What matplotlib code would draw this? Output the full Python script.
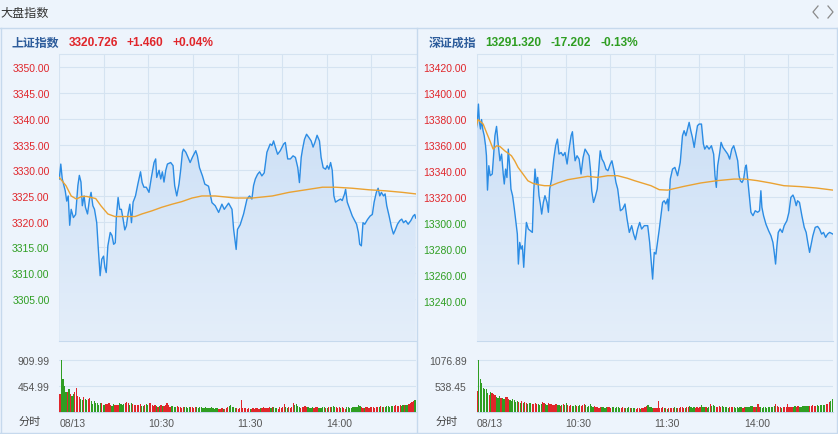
import numpy as np
import matplotlib
matplotlib.use("Agg")
import matplotlib.pyplot as plt
from matplotlib.colors import LinearSegmentedColormap
from matplotlib.lines import Line2D

plt.rcParams["font.family"] = ["Liberation Sans", "Noto Sans CJK SC"]

# ---- data (minute since 9:30, 240 trading minutes) ----

sh_name = "上证指数"
sh_last = "3320.726"
sh_chg = "+1.460"
sh_pct = "+0.04%"
sh_prev = 3319.266

sh_t = [0, 1, 2, 4, 5, 6, 7, 8, 9.5, 11, 12.5, 13.5, 14.6, 15.5, 16.7, 17.6, 19, 20.3, 21.4, 22.6,
        23.7, 25.2, 26.3, 27.5, 28.6, 29.8, 30.7, 31.6, 32.7, 34.3, 35.5, 36.6, 37.7, 38.4, 39.6, 40.7,
        41.8, 42.9, 44.1, 45.2, 46.3, 47.5, 48.6, 49.7, 51.3, 52.9, 54.7, 55.8, 57, 58.6, 60.4, 62,
        63.8, 64.9, 65.6, 67.2, 68.3, 69.4, 70.5, 71.7, 72.8, 75, 76.6, 77.7, 79.1, 80.6, 81.8, 82.9,
        83.6, 85.2, 86.7, 88.1, 89.6, 91.9, 93, 94.4, 96.4, 98, 100.5, 102.8, 105, 107.3, 109.5, 111.1,
        114, 116.3, 117.4, 119.1, 120, 121.8, 124.1, 126.4, 128.1, 129.7, 130.8, 132, 133.5, 134.9,
        136.4, 138, 139.8, 142, 143.2, 144.3, 145.5, 147, 148.8, 151.1, 152.2, 153.8, 155.6, 157.4,
        159, 160.6, 161.7, 162.9, 163.8, 165.1, 166.5, 168, 169.6, 170.9, 172.1, 173.6, 175.2, 176.3,
        177.7, 179.3, 180.4, 181.5, 182.7, 183.8, 184.9, 186, 187.6, 189.4, 190.5, 192.1, 192.8, 193.9,
        195.7, 197.3, 198.9, 200.2, 201.4, 202.3, 203.4, 204.5, 205.7, 207.5, 209.3, 210.8, 212, 213.5,
        214.7, 215.8, 216.9, 218.3, 219.4, 220.5, 222.1, 223.7, 225, 226.1, 227.7, 229.3, 230.6, 231.8,
        233.3, 234.9, 236.7, 238.3, 239.4, 240]
sh_p = [3328.3, 3331.2, 3328.3, 3326.0, 3324.0, 3325.0, 3319.3, 3322.4, 3320.8, 3321.4, 3327.0, 3329.0,
        3327.7, 3323.1, 3325.0, 3322.8, 3321.5, 3324.3, 3325.7, 3323.1, 3322.4, 3319.8, 3314.6, 3309.5,
        3312.7, 3313.3, 3311.1, 3310.1, 3315.3, 3317.9, 3317.3, 3315.6, 3315.9, 3320.8, 3324.7, 3322.4,
        3322.4, 3320.6, 3318.4, 3319.2, 3321.5, 3323.4, 3319.8, 3323.8, 3325.0, 3327.3, 3329.7, 3327.6,
        3326.7, 3326.7, 3325.7, 3328.6, 3331.5, 3332.2, 3328.6, 3330.0, 3328.3, 3329.7, 3327.7, 3330.0,
        3331.2, 3331.5, 3330.9, 3327.0, 3325.0, 3327.3, 3330.2, 3333.5, 3334.1, 3333.5, 3332.5, 3331.5,
        3332.5, 3333.8, 3332.8, 3330.5, 3328.9, 3327.3, 3326.9, 3323.7, 3323.1, 3321.8, 3323.4, 3322.4,
        3323.6, 3322.4, 3318.5, 3314.6, 3318.5, 3319.4, 3321.5, 3324.4, 3325.0, 3324.4, 3327.0, 3328.3,
        3329.2, 3329.7, 3328.9, 3329.5, 3333.5, 3335.1, 3334.8, 3335.7, 3334.5, 3333.1, 3333.8, 3335.1,
        3335.4, 3332.2, 3332.2, 3332.8, 3332.5, 3330.5, 3327.6, 3332.5, 3334.1, 3336.0, 3337.0, 3336.4,
        3335.7, 3334.5, 3335.4, 3336.8, 3335.7, 3332.5, 3330.5, 3330.2, 3330.9, 3330.2, 3331.5, 3330.0,
        3325.0, 3323.8, 3324.1, 3324.4, 3324.1, 3325.4, 3326.3, 3323.8, 3322.4, 3321.1, 3320.2, 3319.5,
        3317.9, 3315.6, 3315.3, 3319.8, 3319.5, 3320.4, 3321.1, 3321.4, 3323.8, 3325.7, 3326.5, 3325.0,
        3325.7, 3325.0, 3325.4, 3323.1, 3321.1, 3318.9, 3317.6, 3318.3, 3319.5, 3320.2, 3320.5, 3319.8,
        3320.2, 3319.5, 3320.2, 3321.1, 3321.4, 3320.7]

sh_avg_t = [0, 4.5, 8, 11.5, 15, 18.5, 24.5, 28, 32.7, 37.4, 51, 55.6, 62.3, 69, 76, 82.5, 89.4, 96,
            105, 112, 118.5, 130, 143.5, 154.7, 166, 177.2, 186, 197.3, 208.5, 219.6, 231, 240]
sh_avg_p = [3328.6, 3327.0, 3325.0, 3324.4, 3324.9, 3324.9, 3324.5, 3323.1, 3321.5, 3321.0, 3321.0,
            3321.5, 3322.1, 3322.8, 3323.4, 3323.9, 3324.6, 3325.0, 3325.0, 3324.8, 3324.6, 3324.6,
            3325.0, 3325.7, 3326.2, 3326.7, 3326.7, 3326.5, 3326.2, 3326.0, 3325.7, 3325.4]

sh_vol = [313, 910, 578, 460, 342, 342, 407, 313, 283, 313,
          342, 413, 283, 254, 236, 212, 254, 224, 212, 236,
          242, 195, 136, 195, 165, 153, 130, 150, 160, 125,
          120, 140, 135, 150, 125, 110, 145, 130, 120, 115,
          150, 135, 120, 140, 165, 180, 150, 130, 160, 140,
          130, 120, 115, 125, 140, 110, 100, 120, 135, 115,
          165, 150, 125, 110, 120, 100, 95, 110, 130, 105,
          100, 115, 150, 120, 95, 110, 100, 90, 85, 100,
          95, 80, 70, 85, 90, 80, 75, 95, 85, 80,
          75, 90, 85, 70, 80, 90, 75, 70, 85, 75,
          70, 65, 80, 75, 60, 65, 70, 55, 60, 65,
          55, 60, 75, 90, 110, 120, 95, 80, 70, 65,
          60, 70, 210, 75, 65, 70, 60, 65, 55, 60,
          70, 60, 65, 75, 60, 70, 65, 80, 75, 70,
          65, 80, 75, 90, 85, 70, 75, 60, 80, 70,
          95, 135, 80, 75, 85, 70, 90, 150, 120, 145,
          100, 85, 75, 95, 80, 110, 90, 80, 75, 70,
          85, 75, 90, 80, 70, 75, 65, 80, 85, 70,
          75, 90, 80, 85, 110, 95, 80, 75, 85, 70,
          80, 75, 60, 85, 90, 70, 75, 80, 90, 85,
          95, 130, 100, 90, 75, 70, 80, 85, 75, 80,
          90, 80, 75, 85, 95, 90, 100, 85, 90, 95,
          100, 110, 95, 105, 100, 110, 120, 105, 100, 115,
          110, 120, 130, 115, 125, 140, 150, 170, 195, 206]

sz_name = "深证成指"
sz_last = "13291.320"
sz_chg = "-17.202"
sz_pct = "-0.13%"
sz_prev = 13308.522

sz_t = [0, 0.7, 1.3, 2, 2.7, 3.4, 4.3, 5.2, 6.1, 6.7, 7.4, 8.3, 9.2, 10.6, 11.5, 12.4, 13.5, 14.6,
        15.8, 16.9, 18, 18.7, 19.6, 20.5, 21.4, 22.3, 23.2, 24.3, 25.5, 26.6, 27.5, 28.2, 29.1, 30,
        30.9, 31.8, 32.7, 33.6, 34.9, 36.3, 37.6, 38.5, 39.4, 40.3, 41.2, 42.1, 43, 43.9, 45, 46.1,
        47.5, 48.4, 49.3, 50.6, 52, 53.3, 54.5, 55.6, 57, 58.3, 59.6, 61, 62.3, 63.7, 64.6, 65.5, 66.4,
        67.7, 69.1, 70.4, 71.8, 73.1, 74.5, 75.8, 76.7, 77.6, 78.8, 79.9, 81.3, 82.2, 83.3, 84.5, 85.8,
        87.2, 88.5, 90.1, 91.2, 92.6, 93.9, 95.1, 96.9, 98.4, 100, 101.4, 102.9, 104.5, 105.8, 107,
        108.5, 109.9, 111.2, 113, 115.3, 116.6, 117.5, 118.6, 119.7, 120.8, 121.9, 123.1, 124.2, 125.3,
        126.4, 127.5, 128.7, 129.3, 130.5, 132, 133.6, 135.4, 137.2, 138.7, 139.8, 141, 142.1, 143.2,
        144.3, 145.4, 146.6, 147.7, 148.8, 149.9, 151.5, 152.8, 153.7, 155.1, 156.6, 158.2, 159.7,
        160.6, 161.5, 162.4, 163.8, 164.7, 166, 167.6, 169.2, 170.5, 171.9, 173.2, 174.5, 175.9, 176.8,
        177.7, 178.8, 179.9, 181, 181.7, 182.6, 183.7, 184.8, 186.2, 187.7, 189.3, 190.6, 191.5, 192.2,
        193.3, 194.9, 196.7, 198.3, 199.6, 200.5, 201.4, 202.3, 203.2, 204.5, 205.9, 207.2, 209, 210.4,
        211.7, 213.1, 214.2, 215.3, 216.2, 217.5, 219.1, 220.7, 222, 223.1, 224.3, 225.4, 226.5, 228.1,
        229.7, 231, 232.4, 233.7, 235.1, 236.4, 237.8, 240]
sz_p = [13373.6, 13380.0, 13391.5, 13377.4, 13372.3, 13379.6, 13371.6, 13367.1, 13359.4, 13351.7,
        13325.2, 13344.0, 13336.3, 13337.6, 13351.7, 13367.1, 13374.3, 13360.7, 13347.8, 13352.9,
        13337.6, 13329.9, 13341.4, 13334.9, 13356.8, 13344.0, 13326.0, 13320.9, 13310.6, 13300.3,
        13291.3, 13268.2, 13284.9, 13279.7, 13282.3, 13265.7, 13284.9, 13300.3, 13295.2, 13293.9,
        13292.6, 13323.5, 13341.4, 13329.9, 13335.0, 13320.9, 13314.5, 13306.7, 13315.7, 13320.9,
        13315.7, 13308.1, 13326.1, 13333.8, 13349.1, 13359.4, 13364.5, 13353.0, 13354.2, 13351.7,
        13354.2, 13345.3, 13356.8, 13367.1, 13370.2, 13358.1, 13347.8, 13351.7, 13349.1, 13337.6,
        13350.4, 13356.8, 13354.2, 13351.7, 13341.4, 13324.7, 13315.7, 13319.6, 13326.0, 13338.9,
        13355.5, 13349.1, 13346.5, 13341.4, 13340.1, 13345.3, 13347.8, 13340.1, 13331.1, 13326.0,
        13309.3, 13310.6, 13314.5, 13302.9, 13292.6, 13297.8, 13291.3, 13287.0, 13295.2, 13300.3,
        13295.2, 13297.8, 13297.8, 13284.9, 13272.0, 13256.6, 13277.2, 13275.9, 13284.9, 13295.2,
        13305.5, 13315.7, 13317.0, 13314.5, 13318.3, 13309.3, 13333.7, 13341.4, 13342.7, 13336.3,
        13346.5, 13367.1, 13371.0, 13367.1, 13372.2, 13377.4, 13371.0, 13365.8, 13358.1, 13367.1,
        13374.8, 13376.1, 13376.1, 13360.7, 13356.8, 13359.4, 13356.8, 13359.4, 13352.9, 13336.3,
        13327.3, 13344.0, 13354.2, 13362.0, 13358.1, 13355.5, 13352.9, 13349.1, 13356.8, 13359.4,
        13354.2, 13347.8, 13336.3, 13332.4, 13331.1, 13333.7, 13342.7, 13344.5, 13333.7, 13320.9,
        13308.1, 13305.5, 13309.3, 13308.1, 13309.3, 13324.7, 13311.9, 13305.5, 13299.0, 13293.9,
        13290.0, 13284.9, 13277.2, 13268.2, 13282.3, 13292.6, 13295.2, 13292.6, 13297.8, 13301.6,
        13308.1, 13319.6, 13321.4, 13318.3, 13313.2, 13317.0, 13315.7, 13305.5, 13296.5, 13292.6,
        13284.9, 13277.2, 13283.6, 13290.0, 13296.5, 13297.2, 13295.2, 13291.3, 13292.6, 13288.8,
        13291.3, 13292.6, 13291.3]

sz_avg_t = [0, 1, 4.5, 6.7, 9, 11.2, 13.5, 15.8, 19, 23.5, 25.7, 28, 31.3, 34.6, 38, 41.4, 45.8, 50.3,
            54.7, 61.4, 68.1, 74.8, 81.5, 88.3, 95, 101.7, 106.3, 117.5, 123.1, 128.7, 139.8, 151,
            162.2, 173.4, 181, 189, 198, 207, 218, 229, 240]
sz_avg_p = [13375.0, 13379.6, 13376.1, 13369.7, 13363.3, 13356.8, 13359.4, 13358.8, 13355.5, 13351.7,
            13347.8, 13342.7, 13337.6, 13332.4, 13330.4, 13329.4, 13328.6, 13328.6, 13330.7, 13333.2,
            13334.5, 13335.8, 13335.0, 13336.3, 13336.3, 13334.3, 13332.5, 13328.6, 13325.5, 13325.2,
            13328.1, 13330.7, 13332.5, 13333.7, 13333.7, 13332.5, 13330.7, 13328.6, 13327.9, 13326.8,
            13325.2]

sz_vol = [435, 1077, 676, 607, 503, 469, 483, 400, 345, 420,
          390, 380, 350, 320, 300, 330, 300, 280, 270, 310,
          320, 275, 250, 230, 260, 240, 200, 230, 210, 190,
          220, 180, 200, 185, 170, 190, 180, 160, 175, 190,
          170, 160, 150, 175, 200, 180, 165, 150, 185, 170,
          160, 150, 140, 170, 150, 135, 130, 145, 160, 140,
          180, 150, 130, 145, 125, 120, 150, 130, 115, 140,
          120, 135, 175, 140, 110, 130, 160, 115, 100, 120,
          110, 95, 90, 100, 110, 95, 90, 105, 95, 100,
          90, 105, 100, 85, 95, 110, 90, 85, 100, 90,
          85, 80, 95, 90, 75, 80, 85, 70, 75, 80,
          70, 75, 90, 110, 130, 140, 110, 95, 85, 80,
          75, 85, 235, 90, 80, 95, 75, 85, 70, 80,
          90, 75, 85, 95, 80, 90, 85, 100, 95, 90,
          85, 100, 95, 115, 105, 90, 95, 80, 100, 90,
          110, 150, 100, 95, 105, 90, 110, 165, 130, 150,
          120, 105, 95, 115, 100, 130, 110, 100, 95, 90,
          105, 95, 110, 100, 90, 95, 85, 100, 105, 90,
          95, 110, 100, 105, 130, 115, 100, 95, 105, 160,
          100, 95, 80, 105, 110, 90, 95, 100, 110, 105,
          115, 160, 120, 110, 95, 90, 100, 105, 95, 160,
          110, 100, 95, 105, 115, 110, 120, 105, 110, 115,
          120, 130, 115, 125, 120, 130, 140, 125, 120, 135,
          130, 140, 150, 135, 145, 160, 175, 200, 230, 262]

sh_yticks = [3305, 3310, 3315, 3320, 3325, 3330, 3335, 3340, 3345, 3350]
sz_yticks = [13240, 13260, 13280, 13300, 13320, 13340, 13360, 13380, 13400, 13420]
sh_vticks = [454.99, 909.99]
sz_vticks = [538.45, 1076.89]
time_ticks = [0, 60, 120, 180]
time_labels = ["08/13", "10:30", "11:30", "14:00"]

# ---- styling ----
W, H = 838, 435
BG = "#edf4fc"
GRID = "#d5e3f1"
BORDER = "#c6d9ed"
RED = "#e0262b"
GREEN = "#2f9e22"
LINE = "#2b8ce4"
AVG = "#eaa232"
FILL = LinearSegmentedColormap.from_list("fill", ["#e4eefa", "#c6dcf5"])


def box(l, t, r, b):
    return [l / W, 1 - b / H, (r - l) / W, (b - t) / H]


fig = plt.figure(figsize=(W / 100, H / 100), dpi=100, facecolor=BG)


def fig_line(xs, ys, color=BORDER, lw=1.0):
    fig.add_artist(Line2D([x / W for x in xs], [1 - y / H for y in ys],
                          color=color, lw=lw, transform=fig.transFigure))


def draw_panel(x0, name, last, chg, pct, prev, t, p, avg_t, avg_p, vol,
               ylim, yticks, vtop, vticks):
    x1 = x0 + 356.4
    up_color = RED if float(chg) >= 0 else GREEN

    # price area
    ax = fig.add_axes(box(x0, 55, x1, 342))
    ax.set_facecolor("none")
    poly = ax.fill_between(t, p, ylim[0], facecolor="none", edgecolor="none")
    grad = np.linspace(1, 0, 256).reshape(-1, 1)
    im = ax.imshow(grad, extent=[0, 240, ylim[0], ylim[1]], aspect="auto",
                   cmap=FILL, zorder=1)
    im.set_clip_path(poly.get_paths()[0], transform=ax.transData)
    ax.plot(t, p, color=LINE, lw=1.0, zorder=3)
    ax.plot(avg_t, avg_p, color=AVG, lw=1.0, zorder=4)
    ax.set_xlim(0, 240)
    ax.set_ylim(*ylim)
    ax.set_xticks(range(0, 241, 30))
    ax.set_yticks(yticks)
    ax.set_yticklabels([f"{v:.2f}" for v in yticks])
    for lbl, v in zip(ax.get_yticklabels(), yticks):
        lbl.set_color(RED if v > prev else GREEN)
    ax.tick_params(axis="y", length=0, pad=7, labelsize=7.5)
    ax.tick_params(axis="x", length=0, labelbottom=False)
    ax.grid(True, color=GRID, lw=0.8, zorder=0)
    ax.set_axisbelow(True)
    for s in ["left", "right", "bottom"]:
        ax.spines[s].set_visible(False)
    ax.spines["top"].set_color(GRID)

    # volume area
    av = fig.add_axes(box(x0, 342, x1, 413))
    av.set_facecolor("none")
    closes = np.interp(np.arange(1, 241), t, p)
    opens = np.r_[prev, closes[:-1]]
    colors = [RED if c >= o else GREEN for c, o in zip(closes, opens)]
    av.bar(np.arange(len(vol)) + 0.5, vol, width=0.8, color=colors, zorder=3)
    av.set_xlim(0, 240)
    av.set_ylim(0, vtop)
    av.set_yticks(vticks)
    av.set_yticklabels([f"{v:.2f}" for v in vticks])
    av.set_xticks(time_ticks)
    av.set_xticklabels(time_labels)
    for lbl in av.get_xticklabels():
        lbl.set_horizontalalignment("left")
    av.tick_params(length=0, labelsize=7.5, colors="#555555")
    av.tick_params(axis="y", pad=7)
    av.tick_params(axis="x", pad=4)
    av.grid(True, axis="y", color=GRID, lw=0.8, zorder=0)
    for s in ["left", "right"]:
        av.spines[s].set_visible(False)
    av.spines["top"].set_color(BORDER)
    av.spines["bottom"].set_color(BORDER)

    fig.text((x0 - 30) / W, 1 - 422 / H, "分时", family="Noto Sans CJK SC",
             fontsize=8, color="#444444", ha="center", va="center")

    # header line
    renderer = fig.canvas.get_renderer()
    x = x0 - 47.5
    y = 1 - 43.5 / H
    parts = [(name, "#2d5c9b", "Noto Sans CJK SC", 8.6),
             (last, up_color, None, 8.6),
             (chg, up_color, None, 8.6),
             (pct, up_color, None, 8.6)]
    for text, color, family, size in parts:
        kw = {"family": family} if family else {}
        tx = fig.text(x / W, y, text, color=color, fontsize=size,
                      fontweight="bold", va="center", ha="left", **kw)
        x += tx.get_window_extent(renderer).width + 9


draw_panel(59.3, sh_name, sh_last, sh_chg, sh_pct, sh_prev, sh_t, sh_p, sh_avg_t, sh_avg_p,
           sh_vol, (3296.8, 3352.6), sh_yticks, 1242.5, sh_vticks)
draw_panel(476.5, sz_name, sz_last, sz_chg, sz_pct, sz_prev, sz_t, sz_p, sz_avg_t, sz_avg_p,
           sz_vol, (13208.9, 13430.1), sz_yticks, 1470.0, sz_vticks)

# page title, pager arrows, panel frames
fig.text(0.5 / W, 1 - 13 / H, "大盘指数", family="Noto Sans CJK SC", fontsize=8.7,
         color="#333333", ha="left", va="center")
fig_line([818, 813, 818], [7, 13, 19], color="#8a8a8a", lw=0.9)
fig_line([828, 833, 828], [7, 13, 19], color="#8a8a8a", lw=0.9)
fig_line([0, W], [29, 29])
fig_line([1, 1], [29, 434])
fig_line([417.3, 417.3], [29, 434])
fig_line([836.5, 836.5], [29, 434])
fig_line([0, W], [433.5, 433.5])

fig.savefig("out.png", dpi=100, facecolor=BG)
